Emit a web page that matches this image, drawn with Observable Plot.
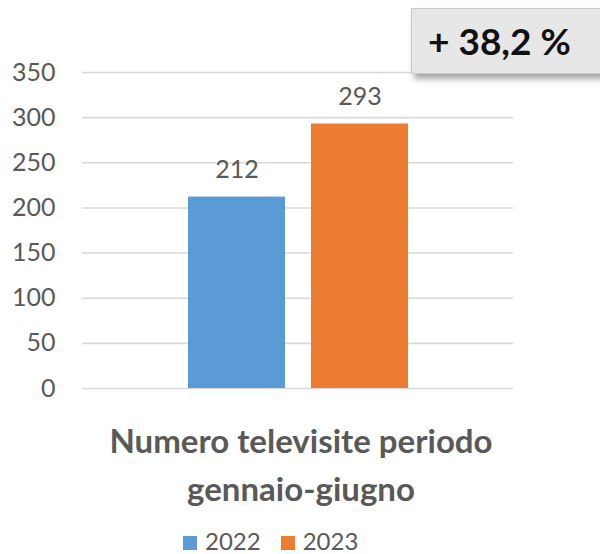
<!DOCTYPE html>
<html>
<head>
<meta charset="utf-8">
<script src="https://cdn.jsdelivr.net/npm/d3@7"></script>
<script src="https://cdn.jsdelivr.net/npm/@observablehq/plot@0.6"></script>
<style>
  body { margin: 0; background: #fff; font-family: Lato, "Open Sans", sans-serif; }
  #wrap { position: relative; width: 600px; height: 554px; overflow: hidden; background: #fff; }
  #chart { position: absolute; left: 0; top: 0; }
  #badge { position: absolute; left: 411px; top: 8px; width: 200px; height: 66px; background: #e7e7e7;
           border: 1px solid #c9c9c9; box-shadow: 3px 5px 6px rgba(0,0,0,0.35); box-sizing: border-box; }
  #badge span { position: absolute; left: 16px; top: 0; line-height: 64px; font-size: 37px; font-weight: 700; color: #111; white-space: nowrap; }
  #title { position: absolute; left: 0; top: 416px; width: 602px; text-align: center; font-size: 33px; font-weight: 700; line-height: 48px; color: #595959; }
  #legend { position: absolute; left: 183px; top: 529px; font-size: 24px; line-height: 24px; color: #595959; white-space: nowrap; }
  #legend .item { display: inline-block; margin-right: 20px; }
  #legend .sw { display: inline-block; width: 14px; height: 14px; margin-right: 8px; vertical-align: 0px; }
</style>
</head>
<body>
<div id="wrap">
  <div id="chart"></div>
  <div id="badge"><span></span></div>
  <div id="title"></div>
  <div id="legend"></div>
</div>
<script>
const years = ["2022", "2023"];
const values = [212, 293];
const colors = ["#5b9bd5", "#ed7d31"];
const yTicks = [0, 50, 100, 150, 200, 250, 300, 350];
const titleLines = ["Numero televisite periodo", "gennaio-giugno"];
const badgeText = "+ 38,2 %";

const data = years.map((y, i) => ({year: y, value: values[i]}));

const plot = Plot.plot({
  width: 600,
  height: 400,
  marginLeft: 82,
  marginRight: 87,
  marginTop: 72,
  marginBottom: 12,
  style: {fontFamily: "Lato, 'Open Sans', sans-serif", color: "#595959", background: "transparent"},
  x: {domain: years, paddingInner: 0.215, paddingOuter: 0.853, axis: null},
  y: {domain: [0, 350], ticks: yTicks, label: null, tickSize: 0, tickPadding: 27},
  color: {domain: years, range: colors},
  marks: [
    Plot.gridY(yTicks, {stroke: "#d9d9d9", strokeOpacity: 1, strokeWidth: 1.6}),
    Plot.axisY(yTicks, {tickSize: 0, tickPadding: 27, fontSize: 25, fill: "#595959", label: null}),
    Plot.barY(data, {x: "year", y: "value", fill: "year"}),
    Plot.text(data, {x: "year", y: "value", text: d => String(d.value), dy: -27, fontSize: 25, fill: "#595959"})
  ]
});
document.getElementById("chart").appendChild(plot);

document.querySelector("#badge span").textContent = badgeText;
document.getElementById("title").innerHTML = titleLines.map(t => `<div>${t}</div>`).join("");
document.getElementById("legend").innerHTML = years.map((y, i) =>
  `<span class="item"><span class="sw" style="background:${colors[i]}"></span>${y}</span>`).join("");
</script>
</body>
</html>
